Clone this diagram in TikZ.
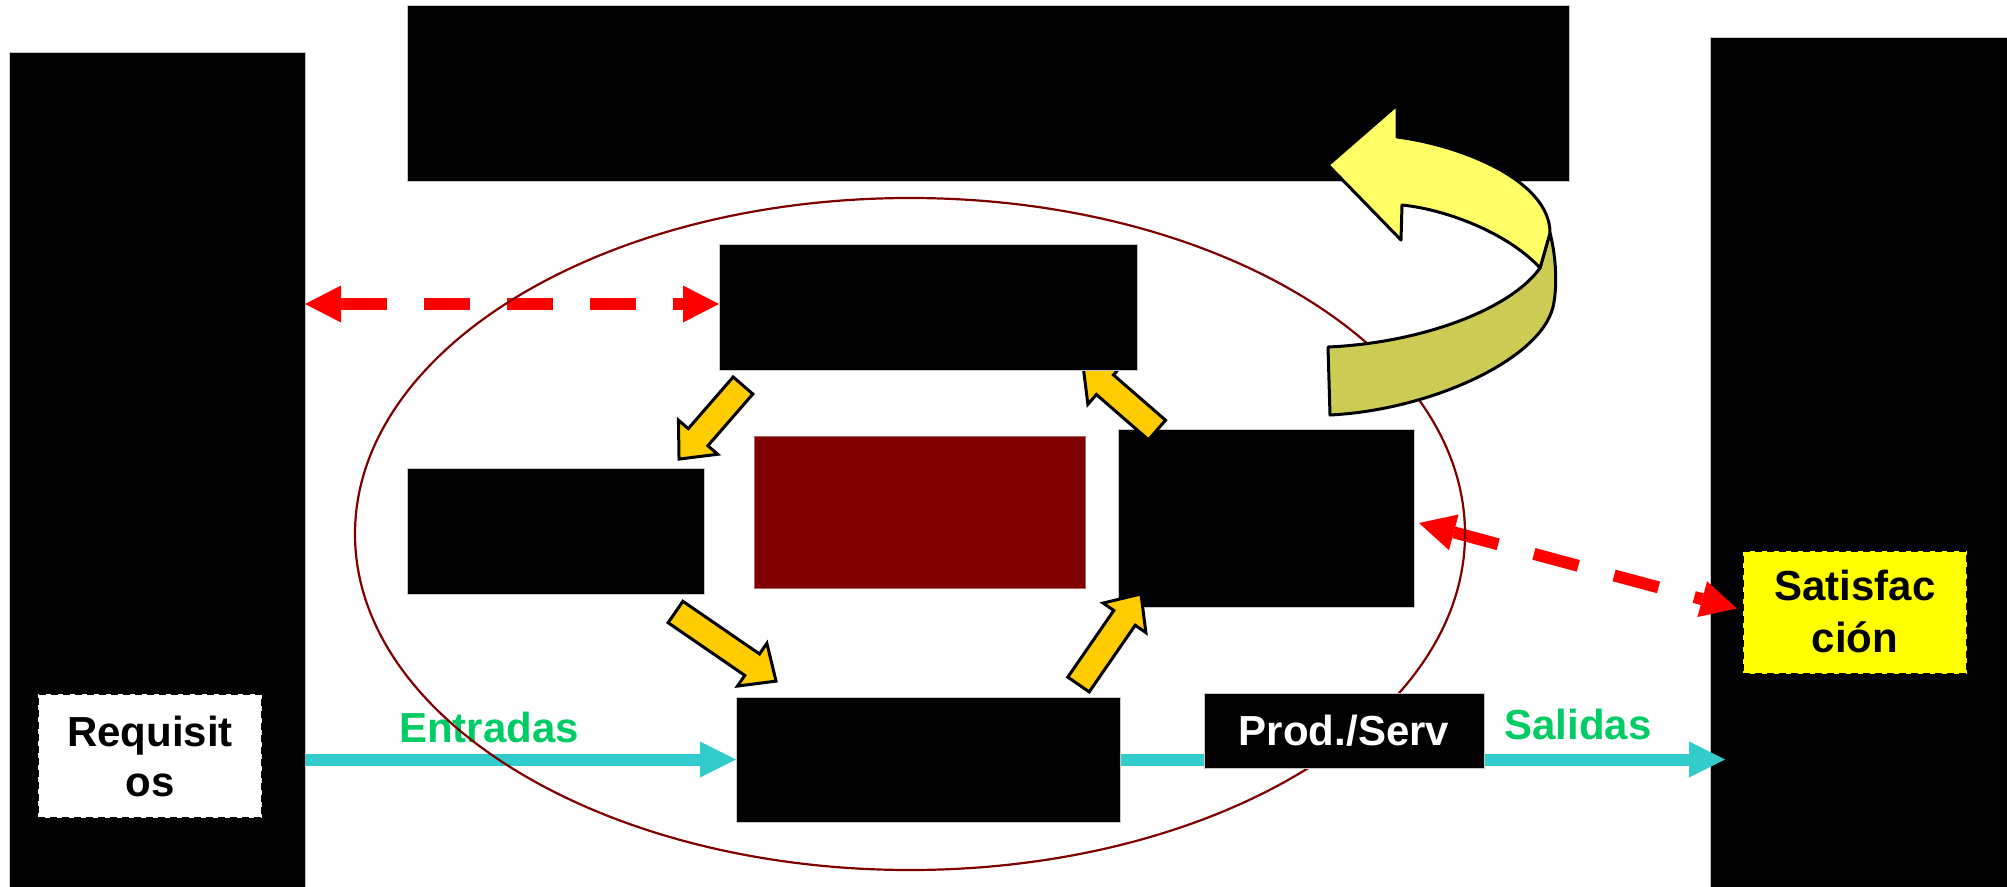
\documentclass[tikz,border=0pt]{standalone}
\usepackage{fontspec}
\setmainfont{Liberation Sans}
\usetikzlibrary{arrows.meta,calc}
\definecolor{cyanline}{HTML}{33CCCC}
\definecolor{greentxt}{HTML}{00CC66}
\definecolor{maroonc}{HTML}{800000}
\definecolor{orangey}{HTML}{FFCC00}
\definecolor{lightyel}{HTML}{FFFF66}
\definecolor{darkyel}{HTML}{CCCC55}
\definecolor{satyel}{HTML}{FFFF00}
\newcommand\blockarr[3]{%
  \begin{scope}[shift={#1}, rotate=#2]
    \draw[blockarrow] (0,-13) -- ({#3-29},-13) -- ({#3-29},-26) -- (#3,0) -- ({#3-29},26) -- ({#3-29},13) -- (0,13) -- cycle;
  \end{scope}}
\begin{document}
\begin{tikzpicture}[x=1pt,y=-1pt,
  blk/.style={fill=black, draw=gray!45, line width=1pt, inner sep=0pt, outer sep=0pt},
  lbl/.style={font=\fontsize{42}{50}\selectfont\bfseries, inner sep=0pt, outer sep=0pt},
  dashbox/.style={draw=black, line width=2.5pt, dash pattern=on 7pt off 5pt, inner sep=0pt, outer sep=0pt},
  cyanarrow/.style={draw=cyanline, line width=12pt, -{Triangle[length=36pt,width=36pt,line width=0pt]}},
  cyanplain/.style={draw=cyanline, line width=12pt},
  redarrow/.style={draw=red, line width=12pt, dash pattern=on 46pt off 37pt,
    {Triangle[length=36pt,width=37pt,line width=0pt]}-{Triangle[length=36pt,width=37pt,line width=0pt]}},
  blockarrow/.style={fill=orangey, draw=black, line width=3pt, line join=miter},
  ribbon/.style={draw=black, line width=3pt, line join=round}]
\useasboundingbox (0,0) rectangle (2007,886);
\fill[white] (0,0) rectangle (2007,886);

% side columns and banner
\node[blk, minimum width=296, minimum height=835] (leftbox) at (157,469.5) {};
\node[blk, minimum width=297, minimum height=851] (rightbox) at (1858.5,462.5) {};
\node[blk, minimum width=1162, minimum height=176] (banner) at (988,93) {};

\path (928,307) coordinate (topc) (928,759.5) coordinate (botc);

% boxes used as connector ends
\node[blk, minimum width=384, minimum height=125] (bot) at (botc) {};
\node[blk, minimum width=418, minimum height=126] (topbox) at (topc) {};
\node[blk, minimum width=296, minimum height=178] (rmid) at (1266,518) {};
\node[blk, minimum width=280, minimum height=75, text=white, font=\fontsize{42}{50}\selectfont\bfseries] (prod) at (1344,730.5) {Prod./Serv};
\node[dashbox, fill=satyel, minimum width=224, minimum height=123] (sat) at (1855,612.5) {};
\coordinate (salend) at ($(rightbox.west |- bot.east)+(15,0)$);
\coordinate (redtop) at ($(topbox.west)+(0,-3)$);

\draw[redarrow] (leftbox.east |- redtop) -- (redtop);
\draw[redarrow] ($(rmid.east)+(5,5)$) -- ($(sat.west)+(-6,-4)$);
\draw[cyanarrow] (leftbox.east |- bot.west) -- (bot.west);
\draw[cyanplain] (bot.east) -- (bot.east -| prod.west);
\draw[cyanarrow] (prod.east |- bot.east) -- (salend);

\node[lbl, text=greentxt, anchor=base] (entr) at (489,742) {Entradas};
\node[lbl, text=greentxt, anchor=base] (sal) at (1578,739) {Salidas};

% ellipse
\draw[draw=maroonc, line width=2.2pt] (910,534) ellipse [x radius=555, y radius=336];

% boxes over ellipse
\node[blk, minimum width=384, minimum height=125] at (botc) {};
\node[blk, minimum width=297, minimum height=126] (lmid) at (555.5,531) {};
\node[fill=maroonc, draw=maroonc!60!white, line width=1pt, minimum width=331, minimum height=152, inner sep=0pt] (cen) at (919.5,512) {};
\node[blk, minimum width=296, minimum height=178] at (1266,518) {};
\node[blk, minimum width=280, minimum height=75, text=white, font=\fontsize{42}{50}\selectfont\bfseries] at (1344,730.5) {Prod./Serv};

% block arrows
\blockarr{(743,385.5)}{229}{97.5}
\blockarr{(675.5,612)}{-34.5}{122}
\blockarr{(1078.5,684.5)}{55.4}{110}
\blockarr{(1157,430)}{139}{98}
\node[blk, minimum width=418, minimum height=126] at (topc) {};

% side text boxes
\node[dashbox, fill=white, minimum width=224, minimum height=124] (req) at (150,756) {};
\node[lbl, anchor=base] (req1) at (150,746) {Requisit};
\node[lbl, anchor=base] (req2) at (150,796) {os};
\node[dashbox, fill=satyel, minimum width=224, minimum height=123] at (1855,612.5) {};
\node[lbl, anchor=base] (sat1) at (1855,600) {Satisfac};
\node[lbl, anchor=base] (sat2) at (1855,652) {ción};

% curved ribbon arrow
\draw[ribbon, fill=darkyel] (1540,268) -- (1550,233) .. controls (1557,260) and (1557,290) .. (1553,307)
  .. controls (1540,360) and (1430,410) .. (1330,415) -- (1328,347)
  .. controls (1420,343) and (1510,310) .. (1540,268) -- cycle;
\draw[ribbon, fill=lightyel] (1397,137) -- (1397,105) -- (1328,165) -- (1401,240) -- (1402,205)
  .. controls (1450,210) and (1510,235) .. (1540,268) -- (1550,233)
  .. controls (1550,180) and (1460,145) .. (1397,137) -- cycle;
\end{tikzpicture}
\end{document}
